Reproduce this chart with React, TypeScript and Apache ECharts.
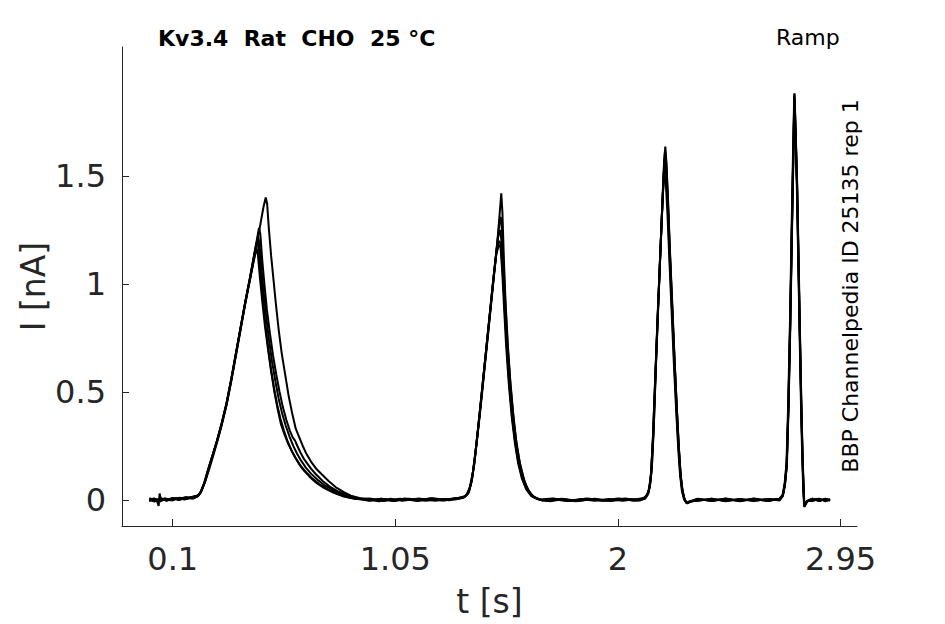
import React, { useEffect, useRef } from "react";
import * as echarts from "echarts";

const xTicks = [0.1, 1.05, 2, 2.95];
const yTicks = [0, 0.5, 1, 1.5];
const titleText = "Kv3.4  Rat  CHO  25 °C";
const protocolText = "Ramp";
const sourceText = "BBP Channelpedia ID 25135 rep 1";

const traceA = [
[0.000,0.003],[0.015,-0.004],[0.030,0.005],[0.040,-0.028],[0.044,0.030],[0.050,0.000],[0.070,0.006],[0.090,0.002],[0.110,0.008],[0.130,0.006],[0.150,0.012],[0.170,0.010],[0.190,0.016],[0.205,0.020],[0.215,0.030],[0.225,0.050],[0.240,0.090],[0.255,0.140],[0.270,0.195],[0.290,0.270],[0.310,0.350],[0.330,0.440],[0.350,0.550],[0.370,0.670],[0.390,0.790],[0.410,0.910],[0.430,1.020],[0.450,1.130],[0.465,1.220],[0.478,1.300],[0.488,1.360],[0.497,1.400],[0.503,1.370],[0.510,1.260],[0.520,1.130],[0.530,1.020],[0.540,0.910],[0.552,0.790],[0.565,0.680],[0.580,0.580],[0.595,0.480],[0.610,0.400],[0.625,0.330],[0.640,0.290],[0.655,0.250],[0.670,0.215],[0.690,0.178],[0.712,0.145],[0.737,0.118],[0.765,0.088],[0.795,0.060],[0.830,0.036],[0.860,0.020],[0.900,0.008],[0.950,0.001],[1.000,0.005],[1.050,-0.004],[1.100,0.006],[1.150,-0.003],[1.200,0.005],[1.250,-0.002],[1.300,0.007],[1.340,0.012],[1.360,0.030],[1.372,0.070],[1.385,0.150],[1.400,0.290],[1.415,0.440],[1.430,0.600],[1.445,0.760],[1.460,0.920],[1.475,1.080],[1.488,1.230],[1.497,1.350],[1.502,1.420],[1.507,1.330],[1.513,1.120],[1.520,0.920],[1.530,0.720],[1.540,0.560],[1.552,0.410],[1.565,0.280],[1.580,0.180],[1.595,0.110],[1.610,0.060],[1.628,0.028],[1.650,0.008],[1.680,-0.004],[1.720,0.005],[1.780,-0.005],[1.840,0.004],[1.900,-0.004],[1.960,0.005],[2.020,-0.003],[2.080,0.004],[2.115,0.010],[2.128,0.030],[2.135,0.060],[2.142,0.130],[2.150,0.300],[2.160,0.580],[2.170,0.860],[2.180,1.120],[2.190,1.380],[2.197,1.560],[2.202,1.636],[2.207,1.560],[2.214,1.380],[2.222,1.150],[2.232,0.900],[2.242,0.640],[2.252,0.410],[2.260,0.240],[2.268,0.110],[2.276,0.040],[2.285,0.000],[2.295,-0.015],[2.310,-0.008],[2.340,0.004],[2.400,-0.005],[2.460,0.005],[2.520,-0.006],[2.580,0.004],[2.640,-0.004],[2.690,0.006],[2.703,0.020],[2.712,0.070],[2.720,0.160],[2.727,0.420],[2.735,0.820],[2.742,1.250],[2.748,1.600],[2.753,1.883],[2.758,1.700],[2.764,1.470],[2.770,1.130],[2.776,0.780],[2.782,0.450],[2.787,0.220],[2.791,0.080],[2.795,-0.030],[2.800,-0.020],[2.807,-0.006],[2.830,0.004],[2.860,-0.005],[2.880,0.004],[2.905,-0.003]
];

const traceB = [
[0.000,-0.006],[0.020,0.006],[0.045,-0.008],[0.070,0.005],[0.100,-0.002],[0.130,0.011],[0.160,0.004],[0.190,0.015],[0.210,0.022],[0.222,0.040],[0.238,0.085],[0.255,0.150],[0.272,0.210],[0.290,0.280],[0.310,0.360],[0.330,0.450],[0.350,0.560],[0.370,0.680],[0.390,0.800],[0.410,0.920],[0.430,1.030],[0.448,1.140],[0.460,1.210],[0.468,1.260],[0.474,1.230],[0.482,1.110],[0.492,0.990],[0.502,0.880],[0.515,0.770],[0.528,0.670],[0.542,0.580],[0.556,0.500],[0.570,0.430],[0.585,0.370],[0.600,0.320],[0.612,0.290],[0.622,0.275],[0.632,0.250],[0.645,0.220],[0.660,0.190],[0.672,0.172],[0.690,0.145],[0.712,0.118],[0.740,0.088],[0.770,0.062],[0.805,0.040],[0.845,0.022],[0.890,0.008],[0.940,-0.002],[0.990,0.006],[1.040,-0.005],[1.090,0.007],[1.140,-0.003],[1.200,0.008],[1.260,-0.002],[1.320,0.010],[1.350,0.018],[1.365,0.040],[1.378,0.100],[1.392,0.220],[1.408,0.380],[1.424,0.550],[1.440,0.720],[1.456,0.890],[1.472,1.060],[1.486,1.200],[1.496,1.300],[1.500,1.310],[1.505,1.250],[1.512,1.080],[1.520,0.900],[1.530,0.700],[1.542,0.520],[1.555,0.370],[1.568,0.250],[1.583,0.160],[1.600,0.090],[1.618,0.045],[1.640,0.015],[1.670,0.002],[1.720,0.007],[1.790,-0.005],[1.860,0.006],[1.930,-0.004],[2.000,0.007],[2.070,-0.003],[2.112,0.008],[2.126,0.025],[2.134,0.060],[2.141,0.120],[2.149,0.280],[2.159,0.560],[2.169,0.840],[2.179,1.100],[2.189,1.350],[2.196,1.520],[2.200,1.580],[2.205,1.520],[2.212,1.360],[2.220,1.140],[2.230,0.890],[2.240,0.640],[2.250,0.410],[2.258,0.250],[2.266,0.120],[2.274,0.045],[2.283,0.005],[2.293,-0.012],[2.308,-0.006],[2.340,0.006],[2.400,-0.004],[2.460,0.007],[2.520,-0.003],[2.580,0.006],[2.640,-0.005],[2.688,0.005],[2.702,0.022],[2.711,0.075],[2.719,0.170],[2.726,0.430],[2.734,0.830],[2.741,1.260],[2.747,1.610],[2.752,1.870],[2.757,1.690],[2.763,1.460],[2.769,1.120],[2.775,0.770],[2.781,0.440],[2.786,0.210],[2.790,0.070],[2.794,-0.025],[2.799,-0.018],[2.806,-0.004],[2.830,0.006],[2.860,-0.003],[2.885,0.006],[2.905,0.001]
];

const traceC = [
[0.000,0.008],[0.025,-0.002],[0.050,0.009],[0.075,-0.004],[0.100,0.008],[0.130,0.001],[0.160,0.013],[0.190,0.008],[0.208,0.018],[0.220,0.035],[0.236,0.080],[0.252,0.140],[0.270,0.205],[0.290,0.275],[0.310,0.355],[0.330,0.445],[0.350,0.555],[0.370,0.675],[0.390,0.795],[0.410,0.915],[0.430,1.025],[0.446,1.120],[0.456,1.180],[0.462,1.200],[0.468,1.150],[0.476,1.040],[0.486,0.920],[0.496,0.810],[0.508,0.700],[0.520,0.600],[0.534,0.500],[0.548,0.420],[0.562,0.350],[0.578,0.300],[0.594,0.258],[0.610,0.222],[0.628,0.188],[0.648,0.155],[0.670,0.128],[0.695,0.100],[0.725,0.074],[0.760,0.050],[0.800,0.030],[0.845,0.014],[0.890,0.005],[0.940,-0.004],[0.990,0.006],[1.040,-0.004],[1.110,0.006],[1.180,-0.004],[1.250,0.005],[1.310,0.003],[1.345,0.012],[1.362,0.032],[1.376,0.090],[1.390,0.200],[1.406,0.360],[1.422,0.530],[1.438,0.700],[1.454,0.870],[1.470,1.040],[1.484,1.170],[1.494,1.200],[1.500,1.180],[1.507,1.080],[1.515,0.920],[1.524,0.740],[1.535,0.560],[1.548,0.400],[1.561,0.270],[1.576,0.170],[1.592,0.100],[1.610,0.052],[1.632,0.020],[1.660,0.004],[1.710,-0.006],[1.770,0.005],[1.830,-0.005],[1.900,0.006],[1.970,-0.005],[2.040,0.005],[2.100,0.002],[2.120,0.018],[2.132,0.045],[2.140,0.110],[2.148,0.260],[2.158,0.540],[2.168,0.820],[2.178,1.080],[2.187,1.310],[2.194,1.460],[2.199,1.500],[2.204,1.470],[2.211,1.330],[2.219,1.120],[2.229,0.870],[2.239,0.620],[2.249,0.400],[2.257,0.240],[2.265,0.115],[2.273,0.040],[2.282,0.002],[2.292,-0.014],[2.306,-0.007],[2.340,-0.004],[2.400,0.006],[2.460,-0.005],[2.520,0.005],[2.580,-0.005],[2.640,0.005],[2.690,0.002],[2.704,0.020],[2.713,0.072],[2.721,0.165],[2.728,0.430],[2.736,0.830],[2.743,1.260],[2.749,1.600],[2.754,1.860],[2.759,1.680],[2.765,1.450],[2.771,1.110],[2.777,0.760],[2.783,0.430],[2.788,0.205],[2.792,0.065],[2.796,-0.028],[2.801,-0.018],[2.808,-0.005],[2.830,-0.005],[2.860,0.005],[2.885,-0.004],[2.905,0.003]
];

const traceD = [
[0.000,-0.002],[0.020,0.007],[0.042,-0.005],[0.065,0.008],[0.090,-0.001],[0.120,0.009],[0.150,0.002],[0.180,0.014],[0.205,0.016],[0.218,0.032],[0.234,0.075],[0.250,0.135],[0.268,0.200],[0.288,0.268],[0.308,0.348],[0.328,0.438],[0.348,0.548],[0.368,0.668],[0.388,0.788],[0.408,0.905],[0.426,1.005],[0.442,1.090],[0.452,1.140],[0.458,1.165],[0.464,1.130],[0.472,1.030],[0.482,0.920],[0.493,0.810],[0.505,0.710],[0.518,0.610],[0.532,0.520],[0.546,0.440],[0.560,0.375],[0.575,0.320],[0.590,0.272],[0.606,0.232],[0.622,0.198],[0.640,0.165],[0.660,0.136],[0.684,0.108],[0.712,0.080],[0.745,0.056],[0.785,0.034],[0.830,0.016],[0.880,0.005],[0.940,0.007],[1.000,-0.005],[1.070,0.006],[1.140,-0.003],[1.210,0.008],[1.280,-0.001],[1.330,0.008],[1.352,0.022],[1.367,0.055],[1.381,0.130],[1.396,0.260],[1.412,0.420],[1.428,0.590],[1.444,0.760],[1.460,0.930],[1.476,1.100],[1.489,1.220],[1.497,1.250],[1.503,1.200],[1.510,1.040],[1.518,0.860],[1.528,0.670],[1.539,0.500],[1.552,0.350],[1.566,0.235],[1.581,0.150],[1.598,0.085],[1.616,0.042],[1.638,0.014],[1.670,0.000],[1.730,0.006],[1.800,-0.005],[1.870,0.007],[1.940,-0.004],[2.010,0.006],[2.080,-0.004],[2.116,0.006],[2.129,0.028],[2.137,0.070],[2.144,0.140],[2.152,0.320],[2.161,0.600],[2.171,0.880],[2.181,1.150],[2.190,1.390],[2.197,1.540],[2.201,1.580],[2.206,1.530],[2.213,1.370],[2.221,1.150],[2.231,0.900],[2.241,0.650],[2.251,0.420],[2.259,0.250],[2.267,0.118],[2.275,0.042],[2.284,0.004],[2.294,-0.016],[2.309,-0.008],[2.340,0.005],[2.400,-0.004],[2.460,0.006],[2.520,-0.005],[2.580,0.007],[2.640,-0.003],[2.692,0.006],[2.704,0.024],[2.712,0.074],[2.720,0.165],[2.727,0.425],[2.735,0.825],[2.742,1.255],[2.748,1.610],[2.753,1.880],[2.758,1.700],[2.764,1.470],[2.770,1.125],[2.776,0.775],[2.782,0.445],[2.787,0.215],[2.791,0.075],[2.795,-0.032],[2.800,-0.022],[2.807,-0.008],[2.830,0.004],[2.860,0.006],[2.885,-0.006],[2.905,0.002]
];

const traceE = [
[0.000,0.004],[0.022,-0.007],[0.048,0.006],[0.072,-0.002],[0.098,0.009],[0.125,0.000],[0.155,0.012],[0.185,0.006],[0.206,0.019],[0.219,0.036],[0.235,0.082],[0.251,0.142],[0.269,0.204],[0.289,0.274],[0.309,0.354],[0.329,0.444],[0.349,0.554],[0.369,0.674],[0.389,0.794],[0.409,0.912],[0.428,1.020],[0.444,1.110],[0.456,1.180],[0.464,1.220],[0.470,1.190],[0.478,1.080],[0.488,0.960],[0.499,0.850],[0.511,0.740],[0.524,0.640],[0.538,0.550],[0.552,0.470],[0.567,0.400],[0.582,0.345],[0.598,0.295],[0.614,0.252],[0.630,0.215],[0.648,0.182],[0.668,0.150],[0.690,0.122],[0.718,0.094],[0.750,0.066],[0.790,0.042],[0.835,0.022],[0.880,0.009],[0.930,0.002],[0.980,-0.006],[1.030,0.006],[1.080,-0.004],[1.150,0.007],[1.220,-0.003],[1.290,0.006],[1.338,0.010],[1.358,0.028],[1.373,0.075],[1.387,0.170],[1.402,0.320],[1.418,0.490],[1.434,0.660],[1.450,0.830],[1.466,1.000],[1.481,1.140],[1.492,1.180],[1.499,1.170],[1.506,1.060],[1.514,0.890],[1.523,0.710],[1.534,0.540],[1.546,0.390],[1.560,0.265],[1.574,0.170],[1.590,0.100],[1.608,0.050],[1.630,0.018],[1.660,0.003],[1.700,-0.005],[1.760,0.006],[1.820,-0.006],[1.890,0.005],[1.960,-0.003],[2.030,0.007],[2.095,-0.002],[2.118,0.012],[2.130,0.034],[2.138,0.080],[2.145,0.160],[2.153,0.340],[2.162,0.620],[2.172,0.900],[2.182,1.170],[2.191,1.420],[2.197,1.570],[2.201,1.620],[2.206,1.560],[2.213,1.390],[2.221,1.160],[2.231,0.910],[2.241,0.655],[2.251,0.425],[2.259,0.255],[2.267,0.120],[2.275,0.045],[2.284,0.003],[2.294,-0.014],[2.310,-0.006],[2.340,-0.003],[2.400,0.006],[2.460,-0.006],[2.520,0.005],[2.580,-0.004],[2.640,0.005],[2.690,-0.002],[2.703,0.018],[2.712,0.068],[2.720,0.158],[2.727,0.415],[2.735,0.815],[2.742,1.245],[2.748,1.590],[2.753,1.850],[2.758,1.680],[2.764,1.455],[2.770,1.115],[2.776,0.770],[2.782,0.440],[2.787,0.212],[2.791,0.072],[2.795,-0.027],[2.800,-0.018],[2.807,-0.005],[2.830,0.006],[2.860,-0.005],[2.885,0.005],[2.905,-0.003]
];

const traces = [traceA, traceB, traceC, traceD, traceE];

const FONT = "DejaVu Sans";
const AXIS_COLOR = "#262626";

export default function App() {
  const ref = useRef<HTMLDivElement>(null);
  useEffect(() => {
    document.body.style.margin = "0";
    if (!ref.current) return;
    const chart = echarts.init(ref.current, null, { renderer: "svg" });
    chart.setOption({
      animation: false,
      backgroundColor: "#ffffff",
      grid: { left: 122, right: 88, top: 47, bottom: 98, outerBoundsMode: "none", containLabel: false },
      xAxis: {
        type: "value",
        min: -0.1164,
        max: 3.02,
        name: "t [s]",
        nameLocation: "middle",
        nameGap: 59,
        nameMoveOverlap: false,
        nameTextStyle: { fontFamily: FONT, fontSize: 33, color: AXIS_COLOR },
        axisLine: { show: true, onZero: false, lineStyle: { color: AXIS_COLOR, width: 1 } },
        axisTick: { show: true, inside: true, length: 7, customValues: xTicks, lineStyle: { color: AXIS_COLOR } },
        axisLabel: { show: true, customValues: xTicks, fontFamily: FONT, fontSize: 32, color: AXIS_COLOR, margin: 17 },
        splitLine: { show: false },
      },
      yAxis: {
        type: "value",
        min: -0.1204,
        max: 2.097,
        name: "I [nA]",
        nameLocation: "middle",
        nameGap: 72,
        nameMoveOverlap: false,
        nameTextStyle: { fontFamily: FONT, fontSize: 33, color: AXIS_COLOR },
        axisLine: { show: true, onZero: false, lineStyle: { color: AXIS_COLOR, width: 1 } },
        axisTick: { show: true, inside: true, length: 7, customValues: yTicks, lineStyle: { color: AXIS_COLOR } },
        axisLabel: { show: true, customValues: yTicks, fontFamily: FONT, fontSize: 32, color: AXIS_COLOR, margin: 16 },
        splitLine: { show: false },
      },
      graphic: [
        {
          type: "text",
          left: 158,
          top: 27,
          style: { text: titleText, font: `bold 22px "${FONT}"`, fill: "#000" },
        },
        {
          type: "text",
          left: 776,
          top: 26,
          style: { text: protocolText, font: `22px "${FONT}"`, fill: "#000" },
        },
        {
          type: "text",
          x: 850,
          y: 286,
          rotation: Math.PI / 2,
          style: { text: sourceText, font: `22px "${FONT}"`, fill: "#000", align: "center", verticalAlign: "middle" },
        },
      ],
      series: traces.map((d) => ({
        type: "line",
        data: d,
        showSymbol: false,
        symbol: "none",
        silent: true,
        lineStyle: { color: "#000", width: 2 },
      })),
    });
    return () => chart.dispose();
  }, []);
  return <div ref={ref} style={{ width: 945, height: 624 }} />;
}
